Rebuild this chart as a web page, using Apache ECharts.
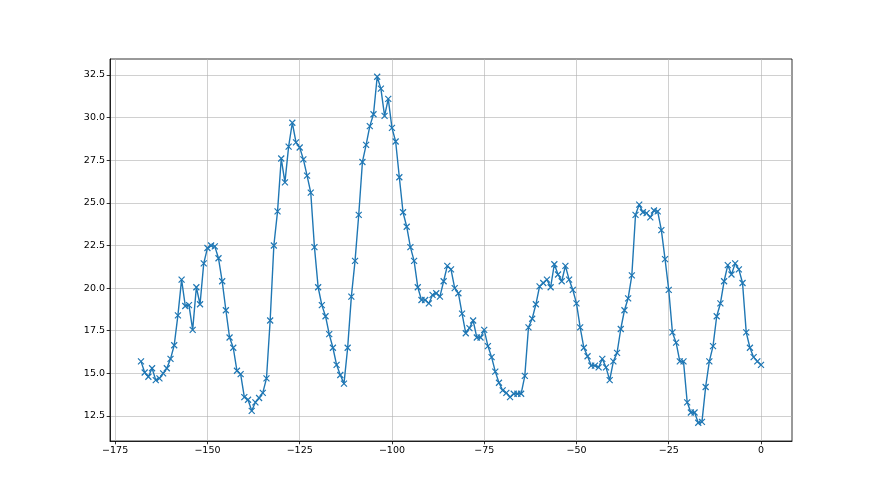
<!DOCTYPE html>
<html>
<head>
<meta charset="utf-8">
<script src="https://cdn.jsdelivr.net/npm/echarts@6/dist/echarts.min.js"></script>
<style>html,body{margin:0;padding:0;background:#fff}#c{width:880px;height:495px}</style>
</head>
<body>
<div id="c"></div>
<script>
var xStart = -168;
var values = [
15.7, 15.05, 14.8, 15.3, 14.6, 14.7, 15.0, 15.3, 15.85, 16.65,
18.4, 20.5, 18.95, 19.0, 17.55, 20.05, 19.05, 21.45, 22.35, 22.5,
22.45, 21.75, 20.4, 18.7, 17.1, 16.5, 15.15, 14.95, 13.6, 13.45,
12.8, 13.3, 13.55, 13.85, 14.7, 18.1, 22.5, 24.5, 27.6, 26.2,
28.3, 29.7, 28.55, 28.25, 27.55, 26.6, 25.6, 22.4, 20.05, 19.0,
18.35, 17.3, 16.5, 15.5, 14.9, 14.4, 16.5, 19.5, 21.6, 24.3,
27.4, 28.4, 29.5, 30.2, 32.4, 31.7, 30.1, 31.1, 29.4, 28.6,
26.5, 24.45, 23.6, 22.4, 21.6, 20.05, 19.3, 19.3, 19.1, 19.6,
19.7, 19.5, 20.4, 21.3, 21.1, 20.0, 19.7, 18.5, 17.35, 17.65,
18.1, 17.1, 17.1, 17.55, 16.6, 15.95, 15.1, 14.45, 14.0, 13.85,
13.6, 13.8, 13.8, 13.8, 14.85, 17.7, 18.2, 19.05, 20.1, 20.3,
20.5, 20.05, 21.4, 20.8, 20.4, 21.3, 20.5, 19.9, 19.1, 17.7,
16.5, 16.0, 15.45, 15.45, 15.35, 15.85, 15.35, 14.6, 15.7, 16.2,
17.6, 18.7, 19.4, 20.75, 24.3, 24.9, 24.45, 24.4, 24.15, 24.55,
24.5, 23.4, 21.7, 19.9, 17.4, 16.8, 15.7, 15.7, 13.3, 12.7,
12.7, 12.1, 12.15, 14.2, 15.7, 16.6, 18.35, 19.1, 20.4, 21.35,
20.8, 21.45, 21.1, 20.3, 17.4, 16.5, 15.95, 15.7, 15.5
];
var xTicks = [-175, -150, -125, -100, -75, -50, -25, 0];
var yTicks = [12.5, 15.0, 17.5, 20.0, 22.5, 25.0, 27.5, 30.0, 32.5];

var data = values.map(function (v, i) { return [xStart + i, v]; });
function minus(s) { return String(s).replace('-', '\u2212'); }

var chart = echarts.init(document.getElementById('c'), null, {renderer: 'canvas'});
chart.setOption({
  animation: false,
  backgroundColor: '#ffffff',
  grid: {left: 110, right: 88, top: 59, bottom: 54, show: true, borderColor: '#000', borderWidth: 0.8, backgroundColor: 'transparent'},
  xAxis: {
    type: 'value', min: -176.4, max: 8.4,
    axisLine: {show: true, onZero: false, lineStyle: {color: '#000', width: 0.8}},
    axisTick: {show: true, length: 3.3, customValues: xTicks, lineStyle: {color: '#000', width: 0.8}},
    axisLabel: {customValues: xTicks, color: '#000', fontFamily: 'DejaVu Sans', fontSize: 9.5, margin: 5,
      formatter: function (v) { return minus(v); }},
    splitLine: {show: true, lineStyle: {color: '#b0b0b0', width: 0.6}}
  },
  yAxis: {
    type: 'value', min: 11.03, max: 33.44,
    axisLine: {show: true, onZero: false, lineStyle: {color: '#000', width: 0.8}},
    axisTick: {show: true, length: 3.3, customValues: yTicks, lineStyle: {color: '#000', width: 0.8}},
    axisLabel: {customValues: yTicks, color: '#000', fontFamily: 'DejaVu Sans', fontSize: 9.5, margin: 5,
      formatter: function (v) { return Number(v).toFixed(1); }},
    splitLine: {show: true, lineStyle: {color: '#b0b0b0', width: 0.6}}
  },
  series: [{
    type: 'line',
    data: data,
    lineStyle: {color: '#1f77b4', width: 1.4},
    symbol: 'path://M0 0L10 10M10 0L0 10',
    symbolSize: 6,
    showAllSymbol: true,
    itemStyle: {color: '#1f77b4', borderColor: '#1f77b4', borderWidth: 1.2},
    emphasis: {disabled: true}
  }]
});
</script>
</body>
</html>
